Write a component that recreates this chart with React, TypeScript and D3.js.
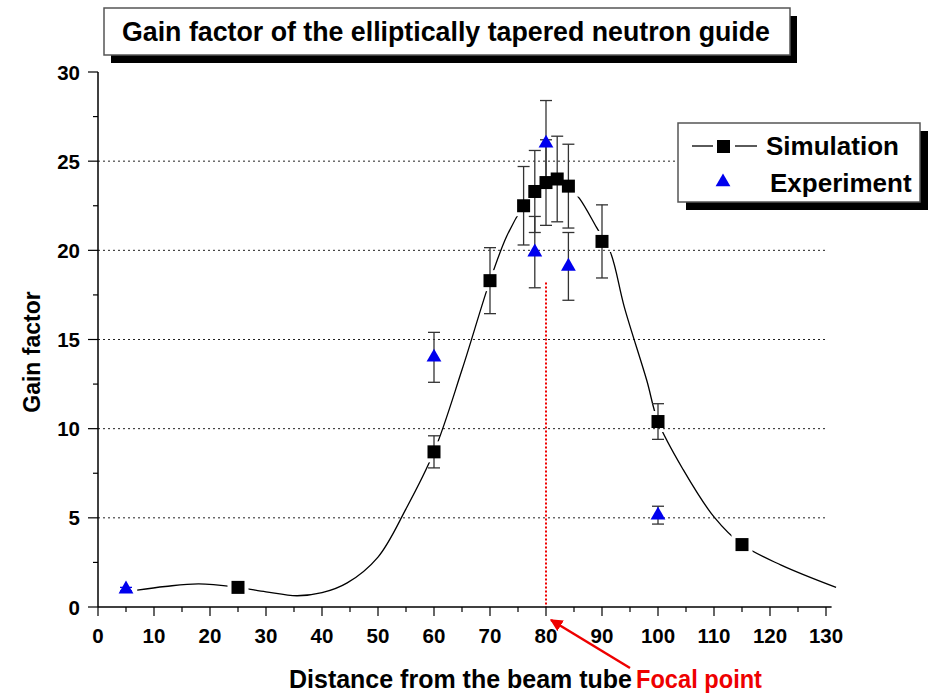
import React from "react";
import * as d3 from "d3";

// ---- data ----
const simX = [25, 60, 70, 76, 78, 80, 82, 84, 90, 100, 115];
const simY = [1.1, 8.7, 18.3, 22.5, 23.3, 23.8, 24.0, 23.6, 20.5, 10.4, 3.5];
const simErr = [0, 0.9, 1.85, 2.2, 2.3, 2.4, 2.4, 2.35, 2.05, 1.0, 0];

const expX = [5, 60, 78, 80, 84, 100];
const expY = [1.0, 14.0, 19.9, 26.0, 19.1, 5.15];
const expErr = [0.1, 1.4, 2.0, 2.4, 1.9, 0.5];

// smooth fit curve
const fitX = [7, 12, 18, 25, 30, 35.5, 40, 44.5, 50, 55, 60, 65, 70, 73, 76, 78, 80, 82, 84, 86, 89, 91.5, 94, 98, 100, 104.5, 110, 115, 122, 131.8];
const fitY = [0.95, 1.15, 1.3, 1.1, 0.85, 0.63, 0.8, 1.35, 2.8, 5.5, 8.7, 13.3, 18.3, 20.8, 22.5, 23.3, 23.8, 24.0, 23.6, 22.9, 21.3, 19.9, 16.8, 12.7, 10.4, 7.7, 5.05, 3.5, 2.35, 1.1];

const xTicks = [0, 10, 20, 30, 40, 50, 60, 70, 80, 90, 100, 110, 120, 130];
const yTicks = [0, 5, 10, 15, 20, 25, 30];
const gridVals = [5, 10, 15, 20, 25];
const focalX = 80;
const focalTop = 18.2;

const title = "Gain factor of the elliptically tapered neutron guide";
const xLabel = "Distance from the beam tube";
const yLabel = "Gain factor";
const focalLabel = "Focal point";
const legendLabels = ["Simulation", "Experiment"];

export default function App() {
  const W = 930, H = 695;
  const x = d3.scaleLinear().domain([0, 130]).range([98, 826]);
  const y = d3.scaleLinear().domain([0, 30]).range([607, 72]);
  const font = "'Liberation Sans', Arial, sans-serif";

  const line = d3.line<number>()
    .x((_, i) => x(fitX[i]))
    .y((d) => y(d))
    .curve(d3.curveCatmullRom.alpha(0.5));

  const minorX = d3.range(5, 131, 10);
  const minorY = d3.range(2.5, 30, 5);
  const sq = 13;
  const tri = d3.symbol().type(d3.symbolTriangle).size(95)();
  const cap = 6;
  const gap = 21;

  return (
    <svg width={W} height={H} style={{ position: "absolute", left: 0, top: 0, background: "#fff" }} fontFamily={font}>
      <defs>
        <marker id="arr" viewBox="0 0 10 10" refX="9" refY="5" markerWidth="5" markerHeight="5" orient="auto">
          <path d="M0,0 L10,5 L0,10 z" fill="#e00" />
        </marker>
        <mask id="curveGap" maskUnits="userSpaceOnUse" x={0} y={0} width={W} height={H}>
          <rect x={0} y={0} width={W} height={H} fill="#fff" />
          {simX.map((v, i) => (
            <rect key={"m" + i} x={x(v) - gap / 2} y={y(simY[i]) - gap / 2} width={gap} height={gap} fill="#000" />
          ))}
        </mask>
      </defs>

      {/* title box */}
      <rect x={111} y={16} width={686} height={47} fill="#000" />
      <rect x={104} y={8} width={686} height={47} fill="#fff" stroke="#555" strokeWidth={1.5} />
      <text x={446} y={41} textAnchor="middle" fontSize={27} fontWeight="bold" textLength={648} lengthAdjust="spacingAndGlyphs">{title}</text>

      {/* grid */}
      {gridVals.map((v) => (
        <line key={"g" + v} x1={x(0)} x2={x(130)} y1={y(v)} y2={y(v)} stroke="#222" strokeWidth={1} strokeDasharray="2,3" />
      ))}

      {/* focal line */}
      <line x1={x(focalX)} x2={x(focalX)} y1={y(focalTop)} y2={y(0)} stroke="#e00" strokeWidth={2} strokeDasharray="2,2" />

      {/* axes */}
      <line x1={x(0)} x2={x(0)} y1={y(0)} y2={y(30)} stroke="#000" strokeWidth={1.5} />
      <line x1={x(0)} x2={x(131)} y1={y(0)} y2={y(0)} stroke="#000" strokeWidth={1.5} />
      {yTicks.map((v) => (
        <g key={"yt" + v}>
          <line x1={x(0) - 10} x2={x(0)} y1={y(v)} y2={y(v)} stroke="#000" strokeWidth={1.2} />
          <text x={x(0) - 18} y={y(v) + 7.5} textAnchor="end" fontSize={20.5} fontWeight="bold">{v}</text>
        </g>
      ))}
      {minorY.map((v) => (
        <line key={"ym" + v} x1={x(0) - 5} x2={x(0)} y1={y(v)} y2={y(v)} stroke="#000" strokeWidth={1.2} />
      ))}
      {xTicks.map((v) => (
        <g key={"xt" + v}>
          <line x1={x(v)} x2={x(v)} y1={y(0)} y2={y(0) + 9} stroke="#000" strokeWidth={1.2} />
          <text x={x(v)} y={643} textAnchor="middle" fontSize={20.5} fontWeight="bold">{v}</text>
        </g>
      ))}
      {minorX.map((v) => (
        <line key={"xm" + v} x1={x(v)} x2={x(v)} y1={y(0)} y2={y(0) + 5} stroke="#000" strokeWidth={1.2} />
      ))}

      {/* fit curve with gaps around symbols */}
      <path d={line(fitY) || ""} fill="none" stroke="#000" strokeWidth={1.3} mask="url(#curveGap)" />

      {/* error bars */}
      {simX.map((v, i) => simErr[i] > 0 && (
        <g key={"se" + i} stroke="#333" strokeWidth={1.3}>
          <line x1={x(v)} x2={x(v)} y1={y(simY[i] - simErr[i])} y2={y(simY[i] + simErr[i])} />
          <line x1={x(v) - cap} x2={x(v) + cap} y1={y(simY[i] - simErr[i])} y2={y(simY[i] - simErr[i])} />
          <line x1={x(v) - cap} x2={x(v) + cap} y1={y(simY[i] + simErr[i])} y2={y(simY[i] + simErr[i])} />
        </g>
      ))}
      {expX.map((v, i) => (
        <g key={"ee" + i} stroke={i === 0 ? "#0000ee" : "#333"} strokeWidth={1.3}>
          <line x1={x(v)} x2={x(v)} y1={y(expY[i] - expErr[i])} y2={y(expY[i] + expErr[i])} />
          <line x1={x(v) - cap} x2={x(v) + cap} y1={y(expY[i] - expErr[i])} y2={y(expY[i] - expErr[i])} />
          <line x1={x(v) - cap} x2={x(v) + cap} y1={y(expY[i] + expErr[i])} y2={y(expY[i] + expErr[i])} />
        </g>
      ))}

      {/* markers */}
      {simX.map((v, i) => (
        <rect key={"s" + i} x={x(v) - sq / 2} y={y(simY[i]) - sq / 2} width={sq} height={sq} fill="#000" />
      ))}
      {expX.map((v, i) => (
        <path key={"e" + i} d={tri || ""} transform={`translate(${x(v)},${y(expY[i])})`} fill="#0000ee" />
      ))}

      {/* legend */}
      <rect x={686} y={131} width={242} height={79} fill="#000" />
      <rect x={678} y={123} width={242} height={79} fill="#fff" stroke="#555" strokeWidth={1.5} />
      <line x1={692} x2={713} y1={146} y2={146} stroke="#000" strokeWidth={1.3} />
      <line x1={735} x2={757} y1={146} y2={146} stroke="#000" strokeWidth={1.3} />
      <rect x={717} y={140} width={13} height={13} fill="#000" />
      <text x={766} y={155} fontSize={26} fontWeight="bold">{legendLabels[0]}</text>
      <path d={tri || ""} transform="translate(723,182)" fill="#0000ee" />
      <text x={770} y={192} fontSize={26} fontWeight="bold">{legendLabels[1]}</text>

      {/* axis labels */}
      <text x={0} y={0} transform={`translate(40,352) rotate(-90)`} textAnchor="middle" fontSize={23} fontWeight="bold">{yLabel}</text>
      <text x={289} y={688} fontSize={26} fontWeight="bold" textLength={343} lengthAdjust="spacingAndGlyphs">{xLabel}</text>
      <text x={636} y={688} fontSize={26} fontWeight="bold" fill="#e00" textLength={126} lengthAdjust="spacingAndGlyphs">{focalLabel}</text>

      {/* arrow */}
      <line x1={630} x2={551} y1={668} y2={620} stroke="#e00" strokeWidth={2.5} markerEnd="url(#arr)" />
    </svg>
  );
}
